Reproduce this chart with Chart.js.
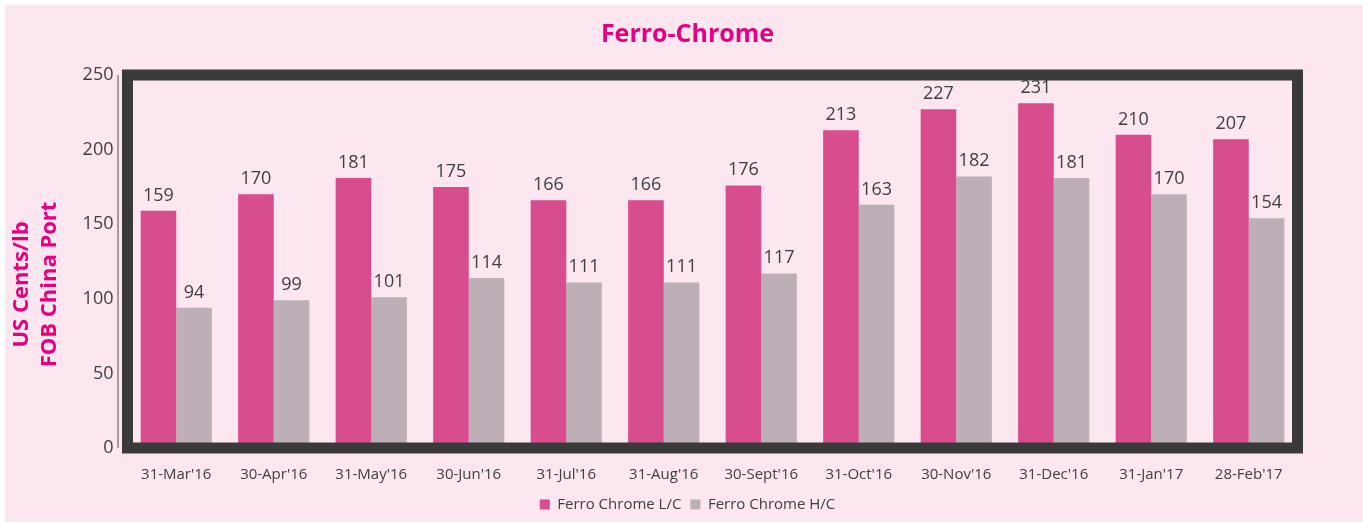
<!DOCTYPE html>
<html>
<head>
<meta charset="utf-8">
<script src="https://cdn.jsdelivr.net/npm/chart.js@4/dist/chart.umd.min.js"></script>
<style>
  body { margin: 0; background: #ffffff; }
  #wrap { width: 1363px; height: 523px; }
</style>
</head>
<body>
<div id="wrap"><canvas id="myChart" width="1363" height="523"></canvas></div>
<script>
// データ
var labels = ["31-Mar'16", "30-Apr'16", "31-May'16", "30-Jun'16", "31-Jul'16", "31-Aug'16",
              "30-Sept'16", "31-Oct'16", "30-Nov'16", "31-Dec'16", "31-Jan'17", "28-Feb'17"];
var lcValues = [159, 170, 181, 175, 166, 166, 176, 213, 227, 231, 210, 207];
var hcValues = [94, 99, 101, 114, 111, 111, 117, 163, 182, 181, 170, 154];
var yTicks = [0, 50, 100, 150, 200, 250];
var yTitle = ["US Cents/lb", "FOB China Port"];

var PINK = "#d74d8e";
var GREY = "#bcafb7";
var TEXT = "#404040";
var MAGENTA = "#e6007e";

// 背景
var bgPlugin = {
  id: 'bg',
  beforeDraw: function(chart) {
    var ctx = chart.ctx;
    ctx.save();
    ctx.fillStyle = "#ffffff";
    ctx.fillRect(0, 0, chart.width, chart.height);
    ctx.fillStyle = "#fce6ef";
    ctx.fillRect(5, 5, chart.width - 5, chart.height - 6);
    ctx.restore();
  }
};

// 数値ラベル・太い枠・縦軸タイトル
var framePlugin = {
  id: 'frame',
  afterDatasetsDraw: function(chart) {
    var ctx = chart.ctx;
    ctx.save();
    ctx.font = "18px 'Open Sans'";
    ctx.fillStyle = TEXT;
    ctx.textAlign = "center";
    ctx.textBaseline = "alphabetic";
    chart.data.datasets.forEach(function(ds, i) {
      var meta = chart.getDatasetMeta(i);
      meta.data.forEach(function(bar, j) {
        ctx.fillText(ds.data[j], bar.x, bar.y - 10);
      });
    });
    ctx.restore();
  },
  afterDraw: function(chart) {
    var a = chart.chartArea;
    var ctx = chart.ctx;
    ctx.save();
    ctx.strokeStyle = "#3a3a3a";
    ctx.lineWidth = 11;
    ctx.strokeRect(a.left, a.top, a.right - a.left, a.bottom - a.top);
    // 左の細い軸線
    ctx.strokeStyle = "#8c8088";
    ctx.lineWidth = 1.5;
    ctx.beginPath();
    ctx.moveTo(a.left - 9.5, a.top);
    ctx.lineTo(a.left - 9.5, a.bottom);
    ctx.stroke();
    // 縦軸タイトル（少し下寄せ）
    ctx.fillStyle = MAGENTA;
    ctx.font = "bold 22px 'Open Sans'";
    ctx.textAlign = "center";
    ctx.textBaseline = "middle";
    var cy = (a.top + a.bottom) / 2 + 23;
    var xs = [22, 50];
    for (var i = 0; i < yTitle.length; i++) {
      ctx.save();
      ctx.translate(xs[i], cy);
      ctx.rotate(-Math.PI / 2);
      ctx.fillText(yTitle[i], 0, 0);
      ctx.restore();
    }
    ctx.restore();
  }
};

var ctx = document.getElementById("myChart").getContext('2d');
var chart = new Chart(ctx, {
  type: 'bar',
  data: {
    labels: labels,
    datasets: [
      { label: "Ferro Chrome L/C", data: lcValues, backgroundColor: PINK,
        barPercentage: 1, categoryPercentage: 0.73 },
      { label: "Ferro Chrome H/C", data: hcValues, backgroundColor: GREY,
        barPercentage: 1, categoryPercentage: 0.73 }
    ]
  },
  options: {
    responsive: false,
    animation: false,
    layout: { padding: { top: 5, left: 12, right: 0, bottom: 1 } },
    plugins: {
      title: {
        display: true,
        text: "Ferro-Chrome",
        color: MAGENTA,
        font: { family: "'Open Sans'", size: 25, weight: 'bold' },
        padding: { top: 15, bottom: 25 }
      },
      legend: {
        position: 'bottom',
        labels: {
          color: TEXT,
          font: { family: "'Open Sans'", size: 15 },
          boxWidth: 10,
          boxHeight: 10,
          padding: 9
        }
      },
      tooltip: { enabled: false }
    },
    scales: {
      x: {
        grid: { display: false, drawTicks: false },
        border: { display: false },
        ticks: { color: TEXT, font: { family: "'Open Sans'", size: 15 }, padding: 18, maxRotation: 0 },
        afterFit: function(s) { s.height = 40; }
      },
      y: {
        min: 0,
        max: 250,
        grid: { display: false, drawTicks: false },
        border: { display: false },
        afterBuildTicks: function(s) { s.ticks = yTicks.map(function(v) { return { value: v }; }); },
        ticks: { color: TEXT, font: { family: "'Open Sans'", size: 18 }, padding: 14 },
        afterFit: function(s) { s.width = 115.5; }
      },
      yRight: {
        position: 'right',
        display: true,
        grid: { display: false, drawTicks: false },
        border: { display: false },
        ticks: { display: false },
        afterFit: function(s) { s.width = 65.5; }
      }
    }
  },
  plugins: [bgPlugin, framePlugin]
});
</script>
</body>
</html>
